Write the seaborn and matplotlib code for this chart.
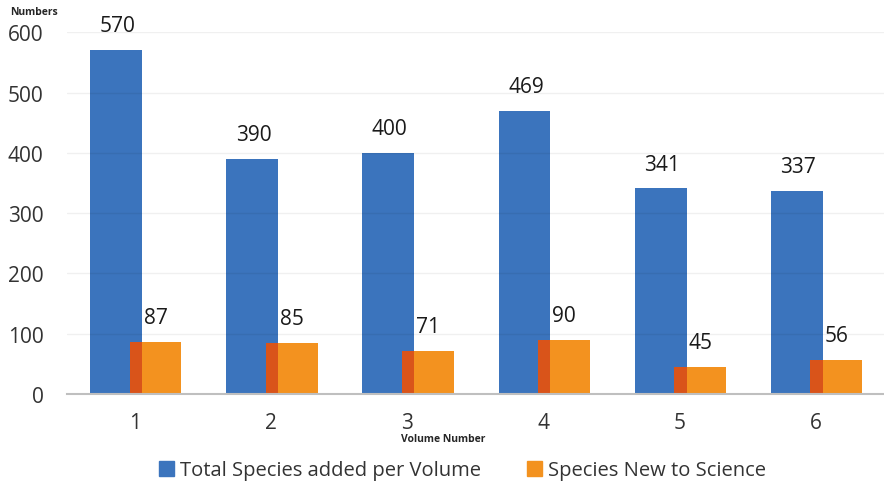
import numpy as np
import pandas as pd
import matplotlib
matplotlib.use("Agg")
import matplotlib.pyplot as plt
import seaborn as sns

# data
volumes = [1, 2, 3, 4, 5, 6]
total_species = [570, 390, 400, 469, 341, 337]
new_species = [87, 85, 71, 90, 45, 56]
series_names = ["Total Species added per Volume", "Species New to Science"]

blue = "#3b74bd"
orange = "#f3921f"
overlap = "#d9541a"

sns.set_theme(style="white")
plt.rcParams["font.family"] = ["Open Sans", "DejaVu Sans"]

fig = plt.figure(figsize=(8.84, 4.89), dpi=100)
ax = fig.add_axes([0.0758, 0.192, 0.9242, 0.740])

# bar geometry (data units)
bw = 0.38
blue_off = -0.14
orange_off = 0.15

df_tot = pd.DataFrame({"x": np.array(volumes) + blue_off, "y": total_species})
df_new = pd.DataFrame({"x": np.array(volumes) + orange_off, "y": new_species})

sns.barplot(data=df_tot, x="x", y="y", native_scale=True, width=bw,
            color=blue, saturation=1, linewidth=0, ax=ax, zorder=2)
sns.barplot(data=df_new, x="x", y="y", native_scale=True, width=bw,
            color=orange, saturation=1, linewidth=0, ax=ax, zorder=3)

# darker strip where the orange bar overlaps the blue bar
ov_left = orange_off - bw / 2
ov_right = blue_off + bw / 2
for v, t, n in zip(volumes, total_species, new_species):
    ax.bar(v + (ov_left + ov_right) / 2, min(t, n), width=ov_right - ov_left,
           color=overlap, zorder=4, linewidth=0)

# value labels
for v, t, n in zip(volumes, total_species, new_species):
    ax.annotate(str(t), (v + blue_off, t), xytext=(1, 10), textcoords="offset points",
                ha="center", va="bottom", fontsize=15, color="#1a1a1a")
    ax.annotate(str(n), (v + orange_off, n), xytext=(0, 10), textcoords="offset points",
                ha="center", va="bottom", fontsize=15, color="#1a1a1a")

ax.set_xlim(0.5, 6.5)
ax.set_ylim(0, 600)
ax.set_xticks(volumes)
ax.set_xticklabels([str(v) for v in volumes])
ax.set_yticks(range(0, 601, 100))
ax.tick_params(axis="both", length=0, labelsize=15, colors="#333333")
ax.tick_params(axis="y", pad=17)
ax.tick_params(axis="x", pad=13)
ax.set_xlabel("")
ax.set_ylabel("")

ax.grid(axis="y", color="black", alpha=0.06, linewidth=1)
ax.set_axisbelow(False)
for s in ["top", "right", "left"]:
    ax.spines[s].set_visible(False)
ax.spines["bottom"].set_color("#bfbfbf")
ax.spines["bottom"].set_linewidth(1.5)
ax.spines["bottom"].set_zorder(5)

fig.text(0.011, 0.974, "Numbers", fontsize=7.5, fontweight="bold", ha="left", va="center")
fig.text(0.501, 0.102, "Volume Number", fontsize=7.5, fontweight="bold", ha="center", va="center")

handles = [plt.Rectangle((0, 0), 1, 1, color=blue), plt.Rectangle((0, 0), 1, 1, color=orange)]
fig.legend(handles, series_names, loc="center", bbox_to_anchor=(0.523, 0.036), ncol=2,
           frameon=False, fontsize=14.5, handlelength=0.75, handleheight=0.75,
           handletextpad=0.3, columnspacing=2.3, labelcolor="#333333")

fig.savefig("out.png", dpi=100)
